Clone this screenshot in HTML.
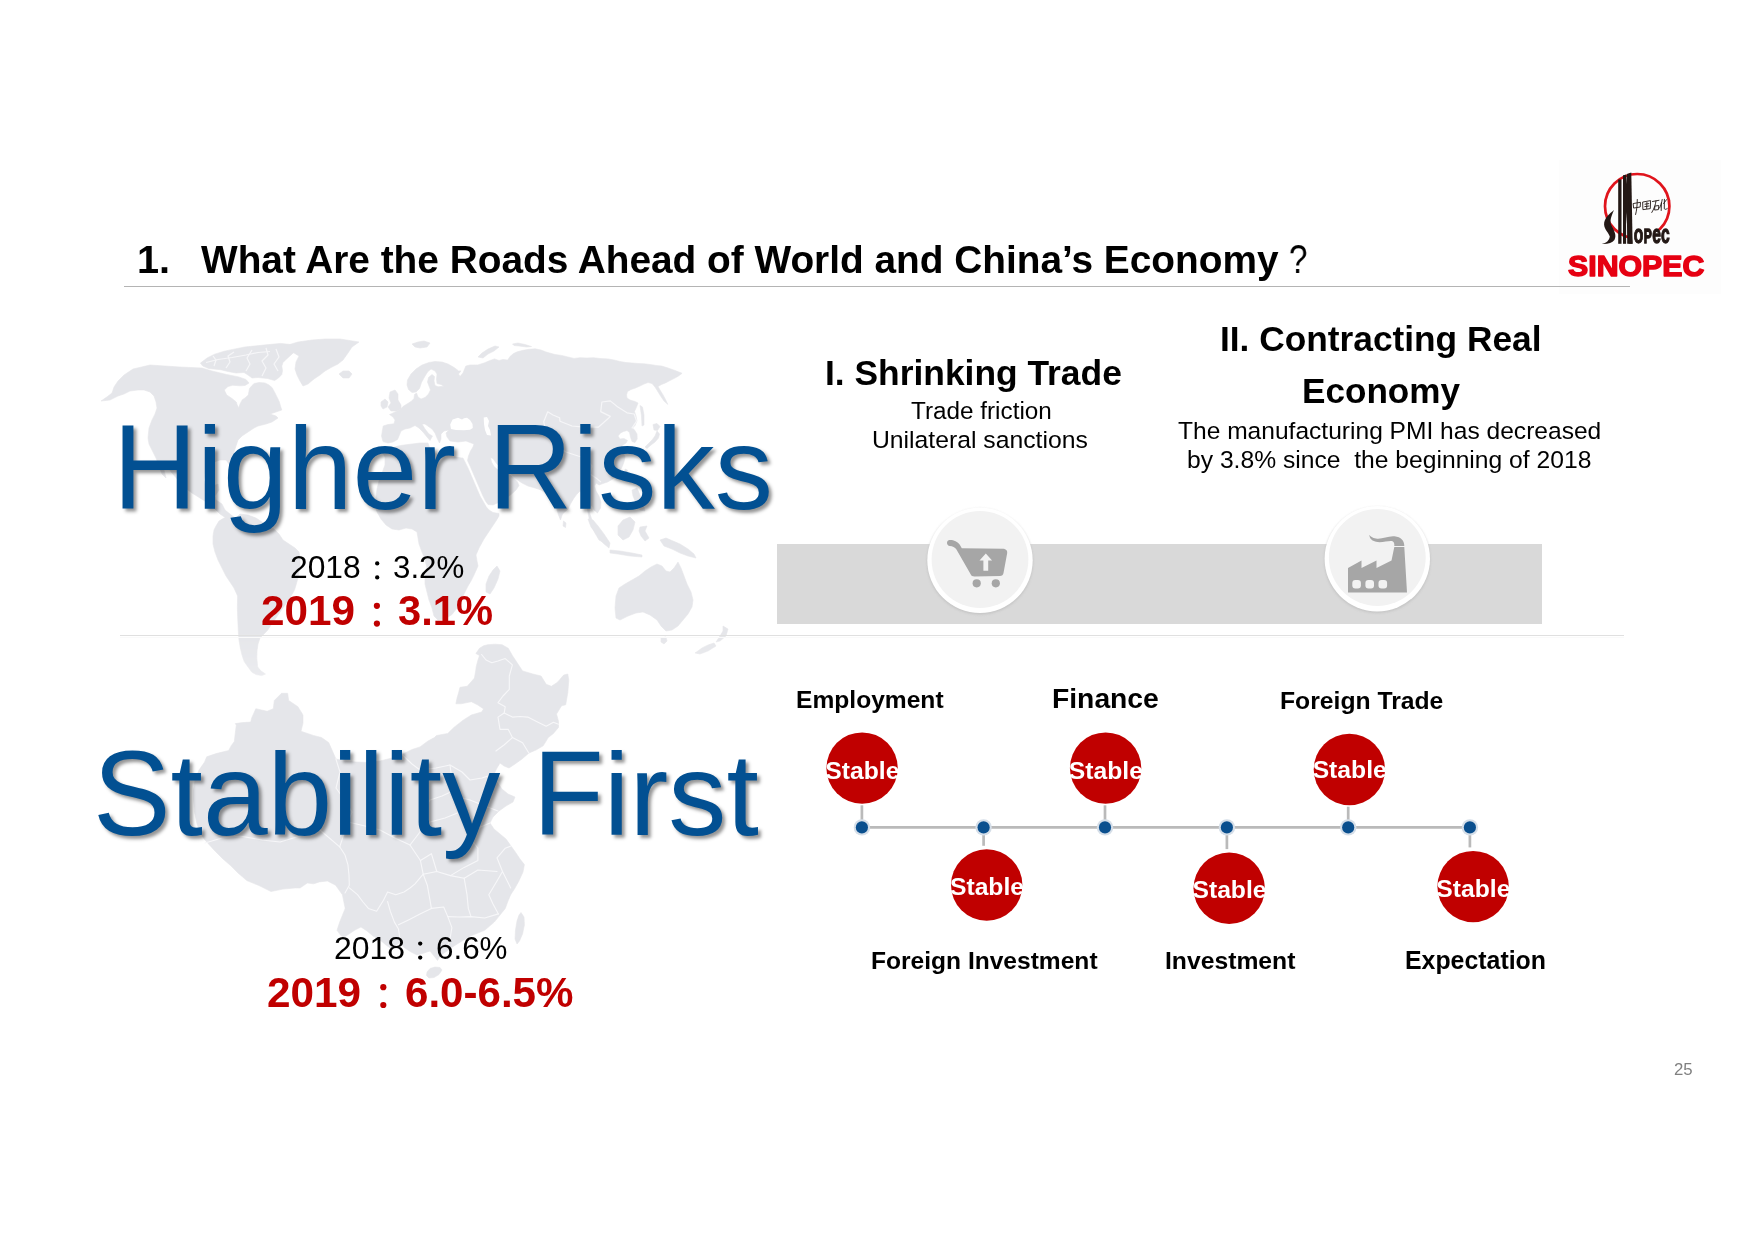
<!DOCTYPE html>
<html><head><meta charset="utf-8"><title>Slide 25</title>
<style>
html,body{margin:0;padding:0;background:#fff;}
body{width:1754px;height:1240px;position:relative;overflow:hidden;font-family:"Liberation Sans",sans-serif;color:#000;}
.abs{position:absolute;}
.t{position:absolute;white-space:nowrap;line-height:1;will-change:transform;}
svg{will-change:transform;}
.b{font-weight:bold;}
.pre{white-space:pre;}
.cap{display:inline-block;transform:scaleY(1.041);transform-origin:0 84.65%;}
.big{color:#025092;text-shadow:3px 3px 3.5px rgba(0,0,0,0.42);letter-spacing:0;}
.red{color:#c00000;}
.hl{position:absolute;height:1px;background:#d9d9d9;}
</style></head><body>
<svg class="abs" style="left:0;top:0" width="1754" height="1240" viewBox="0 0 1754 1240">
<defs>
<linearGradient id="fadeg" gradientUnits="userSpaceOnUse" x1="0" y1="630" x2="0" y2="690">
<stop offset="0" stop-color="#fff" stop-opacity="1"/><stop offset="1" stop-color="#fff" stop-opacity="0.7"/>
</linearGradient>
<mask id="wm" maskUnits="userSpaceOnUse" x="0" y="0" width="1754" height="1240">
<rect x="0" y="0" width="1754" height="630" fill="#fff"/>
<rect x="0" y="630" width="1754" height="100" fill="url(#fadeg)"/>
</mask>
</defs>
<g mask="url(#wm)">
<g fill="#e5e6ea" stroke="#e5e6ea" stroke-width="0.6" stroke-linejoin="round"><path d="M101,401 L107.5,396.5 L112,393 L114,387 L118,381 L124,375 L133,369 L150,365 L165,366 L180,367 L202,368 L212,371 L226.7,374.5 L238.7,376.9 L246,379.5 L249,383 L245,385.5 L240,385.8 L232.7,385.3 L228,386.5 L224.3,390 L226.7,394.9 L232,398.5 L236.3,402 L237,404.5 L238.7,408 L240,404 L242.3,399.7 L245,398 L248.3,394.9 L249.5,388.5 L252,385.5 L254.2,383.5 L259,382.5 L265,382.9 L269,385 L272.2,387.7 L275,393 L277.5,398 L279.4,402 L280.5,406 L281.8,410 L276,412 L270,414 L276,416 L278,418 L272,422 L266,424 L258,426 L254,428 L248,432 L242,436 L238,440 L236,446 L234,452 L232,458 L233,466 L232,470 L229,464 L226,460 L220,460 L214,462 L208,466 L205,472 L204,480 L206,488 L210,490 L213,486 L218,484 L219,490 L215,496 L216,500 L222,504 L225,510 L230,514 L235,518 L238,521 L232,522 L226,518 L220,514 L214,508 L208,503 L200,498 L192,493 L184,487 L178,480 L172,473 L167,466 L163,462 L164,470 L166,478 L162,474 L159,466 L156,458 L152,450 L149,444 L148,438 L149,428 L152,420 L155,414 L157,408 L156,402 L154,396 L150,392 L144,390 L138,390 L130,391 L124,394 L118,396 L110,400Z"/><path d="M200.4,363.1 L207.5,357.7 L214.7,354.2 L224.3,351.2 L232.7,349.4 L244.7,347 L256.6,345.8 L268.6,344.6 L280.6,343.4 L291.4,344.6 L296,350 L291,355 L286.6,358.9 L283,362.5 L281.8,366.1 L282.5,370.5 L281.8,374.5 L278.5,378 L274.6,380.5 L267.4,378.5 L258,377.5 L252,378 L248,375 L244,372.5 L236,373 L228,371.5 L220.7,369.7 L208.7,368.5 L202.8,366.1Z"/><path d="M281,349 L288,345 L298,342 L312,340 L325,339 L340,339 L359,342 L352,347 L348,353 L343,360 L338,364 L332,367 L325,371 L320,375 L314,379 L308,384 L303,386 L300,381 L297,375 L295,369 L296,362 L299,356 L294,353 L288,352Z"/><path d="M339,374 L343,371 L349,371 L352,374 L349,378 L343,378Z"/><path d="M216,526 L219,521 L224,518 L230,516 L236,518 L240,514 L248,515 L256,518 L262,522 L268,526 L274,529 L279,534 L283,540 L289,544 L295,548 L299,552 L300,558 L300,565 L299,572 L298,578 L296,585 L294.5,590 L290,598 L285,605 L280,612 L276,618 L271,625 L267.4,630.6 L263,635 L260,638 L258,644 L257,651 L256.8,658 L257.7,667 L261,671 L265.5,674 L261.6,675.6 L256,674.5 L252,672.3 L248,667 L244.2,661.6 L242,655 L240.3,648 L239,640 L238.4,632.6 L237.8,620 L237.4,608 L237.6,596 L234,588 L230,582 L226,576 L222,568 L218,560 L215,552 L213,544 L213,536 L214,530Z"/><path d="M383,441.6 L381.5,436 L382.5,430 L383.2,426 L388,424.5 L394,423.8 L395,420 L393,417 L389.5,414.5 L392,413.5 L396,411.5 L400,409.5 L403,406.5 L407,404 L411,401.5 L414,398.5 L414.5,394.5 L416.5,393 L418,397 L421,399 L425,397.5 L428.5,394 L430.5,390 L429,386 L427.5,382 L428.5,377.5 L432,374.5 L434.5,376.5 L434,381 L435,385.5 L438,386.8 L444,386.2 L441,384.5 L437,383.5 L436.5,379 L437,374 L435,371 L431,369 L427.5,372 L424.5,377 L421.5,382.5 L419.5,388.5 L416,392 L412,392.5 L408.5,389.5 L407,385 L407.5,380 L411,374 L416,369 L422,365 L429,362.5 L435,361.5 L442,362 L448,364 L453.8,367.3 L458.6,370.9 L461,370.9 L458.5,374 L460,376.5 L463,373 L465.8,366.1 L470,365 L477.8,364.9 L484,363 L490,360.5 L494.5,358.9 L499,360.5 L503,359.5 L507.7,360.1 L510,356.5 L513.5,353.5 L517.3,351.8 L523,350.3 L529,349.3 L535.2,348.8 L541,350 L545.5,351.8 L549.6,353 L555,354.5 L561.6,355.4 L568,357 L574,358.4 L580,357.7 L587,358 L593.5,357.7 L600,358.5 L607.9,358.9 L614,360 L620,361.5 L625.9,362.5 L632,363 L638,363.5 L643.8,363.7 L650,364.5 L656,365.4 L661.8,366.1 L668,368 L675,370.5 L682.1,373.3 L678.5,376 L674.9,378.1 L670,380.5 L665.4,382.9 L661.5,384.5 L658,386.5 L660,390 L663,394.9 L665.5,399.5 L667.8,404.4 L664,401 L660.6,396 L657.5,391 L655,387 L652,383.5 L648,382.5 L644,384 L640,386 L635.5,388 L631,389.5 L627.5,391.5 L626.5,395 L627,398 L630,400 L635,401.5 L638,403 L636.5,407 L634.5,411.5 L636,416 L637,421 L635,425.5 L632.5,428 L634.5,430 L637,434 L637.2,439 L635,442.5 L632,441.5 L630.5,437 L629.5,432.5 L627,430.5 L623.5,431.5 L620.5,433 L618,436 L620,439 L624,438.5 L627.5,440.5 L626,443 L622,445.5 L621,449 L623.5,453 L625,457 L624,462 L622,467 L619.5,472 L616,476 L612,479.5 L607.5,482 L603,483.5 L599,485 L596,483 L594.5,486 L596,491 L599,496 L601,502 L600.5,508 L597.5,513 L594,510 L592,505 L589.5,508 L590,514 L592,520 L595,526 L598.5,532 L602,538 L602.5,542 L599,540 L595.5,534 L592,527 L589.5,520 L588,513 L587,506 L585.5,500 L583,495 L580,491 L577,494 L574,498 L571,503 L568,509 L562.5,514 L560.5,520 L558.5,515 L557,510 L556,505 L552.5,498 L547,494 L541,490 L535,488 L528,486 L522,483 L516,479 L511,474 L506,470.5 L501,468 L496.5,463.5 L493,458.5 L490.5,457.5 L491.5,462 L494,466.5 L498,470 L502,472.5 L506.5,473 L510,474.5 L514,478 L517.5,482 L519,485.5 L516,490 L511,494.5 L505,499 L498.5,502.5 L493,505 L488,504.5 L485.5,501 L482.5,495 L479.5,488 L476.5,481 L473.5,474 L470.5,467 L467.5,460.5 L468.5,456 L470.5,451 L473,447 L474,444 L466,441 L458,442 L450,441 L447,437 L446,433 L449,430 L444,431 L441,434 L441,439 L439.5,443 L437,438 L435,433 L432,429 L425,424 L422,424 L425,429 L429,434 L432.5,436 L430,440.5 L427,437 L423,432 L419,428 L415,425.5 L410,428 L405,429 L401,431 L399,436 L397.5,439.5 L393,442 L388,443Z"/><path d="M381,446 L386,448 L392,448 L398,446 L404,445 L412,444 L420,443 L428,443 L430,449 L435,453 L441,456 L448,455 L455,457 L462,458 L463,458 L465,462 L468,468 L471,475 L474,482 L477,489 L480,496 L483.5,502 L486,506.5 L489,510 L493,512.5 L499,513.5 L499,516 L496,521 L492,527 L488,533 L484,539 L479,548 L476,555 L477,561 L478,566 L474,575 L471,581 L468,586 L464,594 L461,601 L457,608 L452,614.5 L445,619 L438,620 L434,616 L432,608 L429,600 L427,592 L425,584 L425,576 L427,568 L425,560 L422,552 L419,544 L418,538 L417,532 L412,529 L406,528 L399,530 L392,529 L386,525 L381,519 L377,512 L375,505 L376,497 L377,489 L379,481 L382,473 L385,465 L385,457 L382,451Z"/><path d="M497,566 L500,571 L498,579 L494,588 L490,594 L486,592 L486,584 L489,576 L493,570Z"/><path d="M616,596 L619,588 L625,584 L632,580 L639,576 L645,571 L651,567 L657,564 L662,566 L666,571 L670,572 L674,568 L678,562 L681,568 L684,576 L687,584 L691,592 L693,600 L692,607 L688,614 L683,620 L678,626 L672,630 L666,631 L661,626 L657,620 L650,615 L643,612 L636,613 L628,616 L620,620 L616,618 L615,608Z"/><path d="M661,638 L666,637 L667,641 L664,644 L661,642Z"/><path d="M723,626 L728,629 L726,636 L720,641 L716,642 L720,636 L723,631Z"/><path d="M714,643 L716,646 L708,651 L700,654 L695,653 L702,648 L708,645Z"/><path d="M588,519 L593,520 L598,526 L604,534 L610,543 L609,548 L603,543 L597,535 L591,527Z"/><path d="M618,526 L623,520 L630,517 L635,522 L633,530 L629,537 L623,540 L618,535Z"/><path d="M610,550 L620,551 L632,553 L642,555 L642,557 L630,556 L618,554 L610,553Z"/><path d="M640,527 L647,526 L645,531 L649,538 L645,541 L641,536 L639,531Z"/><path d="M660,540 L666,538 L673,541 L680,544 L688,549 L694,554 L696,558 L688,556 L680,553 L672,549 L664,546Z"/><path d="M632,490 L637,488 L640,495 L643,503 L645,511 L640,510 L636,503 L633,496Z"/><path d="M625,469 L627.5,470 L627,474 L624.5,474.5Z"/><path d="M512.5,344 L518,343 L525,344.5 L531.5,346.5 L527,347 L519,346 L514,345.5Z"/><path d="M657,431 L659.5,434 L658.5,438 L655,442 L651,445 L647,448.5 L645,447 L648.5,443.5 L652,440 L655,436Z"/><path d="M653,424.5 L657,423.5 L660,426.5 L657.5,430.5 L654,430Z"/><path d="M640,405.5 L642.5,407 L644,415 L644,425 L642,426 L641.5,416Z"/><path d="M391,411 L388,407 L391,403 L389,398 L390,392 L395,390 L398,394 L398,400 L401,405 L401,409 L397,411Z"/><path d="M381,402 L385,399 L388,402 L387,407 L383,409 L381,406Z"/><path d="M412,344 L418,342 L424,341 L430,343 L427,347 L420,348 L415,347Z"/><path d="M478,357 L482,353 L488,349 L495,346 L499,347 L494,351 L488,354 L483,358Z"/><path d="M563.5,521 L566,523 L565.5,527.5 L563,526Z"/></g>
<g fill="#ffffff"><path d="M483.7,417.6 L487,417 L489,421 L488,426 L490,430 L491,435.5 L487,435 L485,430 L484,424Z"/><path d="M452.6,419.5 L458,417.8 L462,419.5 L464,418.2 L467,417.8 L470,420 L472.5,424 L472.8,428 L470,429.8 L464,430.2 L456,430 L451,429 L450.2,424.5Z"/></g>
<g fill="none" stroke="#f6f6f8" stroke-width="1.2" stroke-linejoin="round"><path d="M206,362.5 L218,359.5 L232,357.5 L246,355 L258,352.5 L270,351.5"/><path d="M226,368 L230,362 L228,356 L234,352"/><path d="M246,371 L250,364 L247,358 L252,350"/><path d="M262,376 L266,368 L262,361 L268,355 L266,348"/><path d="M278,371 L274,364 L279,357 L276,349"/><path d="M214,366 L216,360 L213,356"/><path d="M545.7,430 L543.7,421.8 L547.7,411.8 L553,415 L559.6,417.8 L560,421.2 L572,426 L584,427.2 L598.3,427.2 L607.9,418.8 L610.3,416.4 L600.7,411.6 L601.9,402 L610.3,400.9 L617.5,406.8 L627,412.8 L634.2,414 L636.6,421.2 L631.8,428.4"/><path d="M545.7,430 L549,438 L556,446 L566,452 L578,456 L586,458 L592,466 L590,474 L596,478 L601,482"/></g>
</g>
<g fill="#e5e6ea" stroke="#e5e6ea" stroke-width="0.6" stroke-linejoin="round">
<path d="M281.5,693.3 L287.6,693.3 L288.7,700.5 L297.9,706.7 L303,714.9 L303,723.1 L301,731.3 L313.3,735.4 L321.5,737.5 L328.7,742.6 L332.8,751.8 L335.9,759 L346,761 L356,762 L368,762.5 L380,761 L392,758 L402,754.5 L412,749.5 L420,746.9 L428,741 L434.4,737.6 L436.4,735.6 L442,734.5 L447.7,733.5 L453.9,727.4 L463.1,720.2 L471.3,715 L481.6,712 L483.6,708.9 L477.5,704.8 L471.3,701.7 L466,702.8 L461.1,703.8 L455.9,703.8 L456.9,698.6 L458.5,693 L460,687.3 L467.2,686.3 L471,682 L474.4,678.1 L475.5,672 L476.4,665.8 L478,660 L479.5,655.5 L475.9,653.5 L479.5,648.3 L483.6,645.8 L487.7,644.7 L495,644.2 L502.1,644.7 L508.3,648.3 L512.4,655.5 L518.5,664.8 L522.6,670.9 L532.9,674 L541.1,676 L546.2,684.3 L551.4,686.3 L557.5,682.2 L563.7,675 L567.8,674 L568.8,680.2 L567.8,692.5 L565.7,704.8 L561.6,705.8 L556.5,714 L558.5,721.2 L558.5,727.4 L553.4,733.5 L548.3,737.6 L543.2,745.8 L536,750 L529,753 L522,759 L515,764 L509,768 L504,766 L500,763 L497,768 L494,774 L497,782 L502,789 L508,794 L515,797 L513,802 L506,806 L499,811 L493,817 L490,823 L494,829 L500,834 L506,839 L511,846 L516,853 L520,859 L524.4,864.6 L523,872 L518.9,881 L515,888 L510.7,894.7 L508,901 L505.3,908.4 L500,915 L494.3,922.1 L484.7,930.3 L471,935.8 L462,941 L454,946 L447,951 L441,955 L437.5,960.5 L434,956 L430,951 L424,953 L417,955 L411,952 L405,948 L399,943 L395,946 L391.6,949 L386,945 L380,940 L373,936 L367,931 L361,927 L355,930 L349,934 L344,937 L341,935.8 L337,930.3 L339.7,922.1 L345.2,908.4 L342.4,894.7 L335.6,885.2 L327.4,881 L319.3,881.9 L313.7,883.8 L307.3,883 L300,888 L295.2,887.9 L283,889.1 L271,891.5 L258.9,885.5 L246.8,880.6 L238,873 L230.8,865.8 L222.4,858.4 L214,850 L204.6,839.6 L200.5,833 L197,824 L194.5,812 L193.5,800 L193.5,790 L195,780 L199,770 L204.6,762 L206.7,756.8 L216.1,753.6 L228.7,750.5 L231.2,745.7 L234.3,741.6 L235.3,733 L236.3,725.2 L235.3,723.6 L242.5,722.6 L250.7,722.1 L251.7,718 L255.8,708.7 L267.1,711.3 L273.3,708.7 L274.3,700.5Z"/><path d="M521,912.5 L524,917 L524.4,925 L522.5,934 L519.5,941 L517,944 L515,939 L515.5,930 L517,921 L519,915Z"/><path d="M427,972 L430,968.5 L435,967 L440,967.5 L442,970 L439,974.5 L434,977.5 L429,978 L426.5,975.5Z"/>
</g>
<g fill="none" stroke="#f7f7f9" stroke-width="1.1" stroke-linejoin="round" stroke-linecap="round">
<path d="M481.6,654.5 L486,660 L491.8,662.7 L498,661 L505.2,658.6 L512.4,664.8 L509.3,676 L509.3,689.4 L503,696 L498,702.7 L505.2,706.8 L504.2,713 L498,717.1 L500,729.4 L508.3,729.4 L512.4,737.6 L504,745 L495.9,751"/><path d="M504.2,713 L512.4,717.1 L520,716.5 L527.8,717.1 L538,722.2 L546.2,726.3 L553.4,722.2 L558.5,724.3"/><path d="M512.4,737.6 L522.6,742.8 L528.8,753"/><path d="M339.7,846.8 L345,855 L347.9,864.6 L349,875 L349.3,885.2 L345,893"/><path d="M349.3,887.9 L357.5,894.7 L363,902 L368.4,908.4 L376.6,911.2 L383.5,900.2 L387.6,892 L395.8,894.7 L404,892 L410,888 L415,883.8 L423.2,874.2"/><path d="M387.6,901.6 L390.3,911.2 L394.4,922.1 L398.5,929 L400,940"/><path d="M423.2,874.2 L427.3,885.2 L430,900.2 L431.4,908.4 L420,914 L409.5,919.4 L398.5,924.8"/><path d="M423.2,874.2 L436.8,871.5 L450.5,875.6 L464.2,878.3 L467,894.7 L468.3,908.4 L471,916.6"/><path d="M431.4,908.4 L443.7,907 L447.8,916.6 L451.9,927.6 L450.5,935.8 L448,946"/><path d="M447.8,916.6 L459,917 L471,916.6 L484.7,918 L498.4,913.9"/><path d="M498.4,913.9 L493,904 L488.8,894.7 L497,881 L502.5,871.5 L510.7,887.9"/><path d="M502.5,871.5 L497,857.8 L505.3,848.2 L511,846"/><path d="M423.2,874.2 L420.4,860.5 L431.4,853.7 L436.8,871.5"/><path d="M450.5,875.6 L464.2,867.4 L477.9,860.5 L477.9,848.2 L470,838 L478,828 L490,823"/><path d="M464.2,878.3 L477.9,870 L497,871.5"/><path d="M205,843 L222,838 L240,836 L262,840 L280,842 L300,836 L320,830 L339.7,846.8"/><path d="M335.9,759 L340,772 L336,788 L346,802 L352,812 L348,822 L339.7,846.8"/><path d="M348,822 L365,826 L380,830 L395,838 L410,845 L420.4,860.5"/><path d="M410,845 L420,832 L430,822 L445,818 L460,812 L478,828"/><path d="M402,754.5 L412,764 L420,770 L436,768 L450,765 L462,772 L470,780 L482,778 L494,774"/><path d="M450,765 L452,780 L455,790 L462,798 L470,800 L485,806 L498,811"/><path d="M455,790 L442,796 L430,800 L424,810 L420,820 L420,832"/>
</g>
</svg>

<!-- title -->
<div class="t" id="qm" style="left:1289px;top:238.9px;font-size:41.4px;transform:scaleX(0.8);transform-origin:0 0;">?</div>
<div class="hl" style="left:120px;top:635px;width:1504px;background:#e0e0e0;"></div>
<div class="hl" style="left:120px;top:637px;width:1504px;background:#fafafa;"></div>

<div class="abs" style="left:1559px;top:160px;width:162px;height:134px;background:#fdfdfd;"></div>
<svg class="abs" style="left:1559px;top:160px" width="162" height="134" viewBox="1559 160 162 134">
<circle cx="1637.2" cy="206.2" r="32.2" fill="none" stroke="#e0141c" stroke-width="2.7"/>
<rect x="1632" y="230.5" width="40" height="15" fill="#fdfdfd"/>
<g fill="#231815">
<rect x="1618.2" y="179.5" width="3.3" height="64.3"/>
<rect x="1623" y="175.5" width="3.1" height="68.3"/>
<path d="M1626.8,174 L1631.3,172.6 L1632.6,243.8 L1627.2,243.8 Z"/>
<path d="M1623,175.5 L1626.1,174.5 L1632.6,243.8 L1628.6,243.8 Z"/>
<path d="M1601.8,244 C1606.5,243 1609.2,240.5 1609.8,236.5 C1608,231.5 1603.2,228.5 1604.2,222.5 C1605.2,217.5 1609.5,213.8 1614,210 C1611.2,216.5 1609.6,220.5 1611.2,224.8 C1613.6,230 1617.2,235 1614.4,240 C1612.2,243.2 1608,244.2 1601.8,244 Z"/>
</g>
<g font-family="Liberation Sans, sans-serif" font-weight="bold" fill="#231815" stroke="#231815" stroke-width="1.3" transform="translate(1633.8,242.9) scale(0.60,1)">
<text x="0" y="0" font-size="26">o</text>
<text x="16.4" y="0" font-size="20.2">P</text>
<text x="30.8" y="0" font-size="26">ec</text>
</g>
<g stroke="#231815" stroke-width="0.9" fill="none" stroke-linecap="round">
<path d="M1633.5,203.5 L1640.5,202.3 L1640.2,207 L1634,208 Z M1637.3,199.5 C1637.2,205 1636.8,210 1635.6,214.5"/>
<path d="M1643,202 L1650.6,200.6 L1650.3,208.6 L1643.3,209.6 Z M1645,204.2 L1648.8,203.6 M1644.8,206.6 L1649,206 M1646.9,202.5 L1646.7,208.5"/>
<path d="M1652.5,201.5 L1659,200.3 M1656,200.8 C1655.5,205 1654,209 1651.8,212.5 M1655.2,206 L1658.8,205.5 L1658.4,209.6 L1655,210 Z"/>
<path d="M1662.2,199.5 C1661.6,203 1660.8,205.5 1659.6,208 M1661.4,203 L1661.2,210.5 M1666.6,199.6 L1663.6,203.5 M1664.4,199.3 L1664.3,208.3 C1664.4,209.6 1665.5,209.8 1667.2,208.6"/>
</g>
<text x="1636.2" y="276.0" text-anchor="middle" font-family="Liberation Sans, sans-serif" font-weight="bold" font-size="29.8" fill="#e60012" stroke="#e60012" stroke-width="1.5" stroke-linejoin="round" textLength="136.2" lengthAdjust="spacingAndGlyphs">SINOPEC</text>
</svg>

<div class="hl" style="left:124px;top:286px;width:1506px;background:#b4b4b4;"></div>

<!-- texts -->
<div class="t b" id="t1" style="left:137.04px;top:240.19px;font-size:39.7px;">1.</div>
<div class="t b" id="title" style="left:201.02px;top:241.26px;font-size:38.82px;">What Are the Roads Ahead of World and China’s Economy</div>
<div class="t big" id="hr" style="left:112.98px;top:410.83px;font-size:116.44px;"><span class="cap">H</span>igher <span class="cap">R</span>isks</div>
<div class="t big" id="sf" style="left:92.94px;top:736.57px;font-size:116.33px;"><span class="cap">S</span>tability <span class="cap">F</span>irst</div>
<div class="t " id="s1a" style="left:290.15px;top:551.56px;font-size:31.8px;">2018</div>
<div class="t " id="s1c" style="left:392.61px;top:551.95px;font-size:31.29px;">3.2%</div>
<div class="t b red" id="s2a" style="left:261.02px;top:590.15px;font-size:42.24px;">2019</div>
<div class="t b red" id="s2c" style="left:398.43px;top:590.45px;font-size:41.67px;">3.1%</div>
<div class="t " id="s3a" style="left:333.65px;top:932.73px;font-size:31.88px;">2018</div>
<div class="t " id="s3c" style="left:435.96px;top:932.73px;font-size:31.37px;">6.6%</div>
<div class="t b red" id="s4a" style="left:267.33px;top:971.93px;font-size:42.25px;">2019</div>
<div class="t b red" id="s4c" style="left:404.77px;top:972.09px;font-size:42.08px;">6.0-6.5%</div>
<div class="t b" id="h1" style="left:824.7px;top:355.02px;font-size:35.39px;">I. Shrinking Trade</div>
<div class="t " id="p1a" style="left:910.89px;top:399.15px;font-size:24.29px;">Trade friction</div>
<div class="t " id="p1b" style="left:871.85px;top:427.75px;font-size:24.74px;">Unilateral sanctions</div>
<div class="t b" id="h2a" style="left:1220.45px;top:321.39px;font-size:35.29px;">II. Contracting Real</div>
<div class="t b" id="h2b" style="left:1302.33px;top:372.99px;font-size:35.13px;">Economy</div>
<div class="t " id="p2a" style="left:1178.32px;top:418.73px;font-size:24.57px;">The manufacturing PMI has decreased</div>
<div class="t pre" id="p2b" style="left:1186.71px;top:448.34px;font-size:24.67px;">by 3.8% since  the beginning of 2018</div>
<div class="t b" id="l1" style="left:795.56px;top:688.09px;font-size:24.6px;">Employment</div>
<div class="t b" id="l2" style="left:1051.86px;top:684.01px;font-size:28.28px;">Finance</div>
<div class="t b" id="l3" style="left:1279.84px;top:689.19px;font-size:24.71px;">Foreign Trade</div>
<div class="t b" id="l4" style="left:870.86px;top:949.27px;font-size:24.57px;">Foreign Investment</div>
<div class="t b" id="l5" style="left:1165.09px;top:949.17px;font-size:24.71px;">Investment</div>
<div class="t b" id="l6" style="left:1405.4px;top:948.06px;font-size:24.88px;">Expectation</div>

<svg class="abs" style="left:360px;top:550px" width="80" height="470" viewBox="360 550 80 470">
<g fill="#000"><circle cx="377.2" cy="563.4" r="2.15"/><circle cx="377.2" cy="577.4" r="2.15"/><circle cx="420.2" cy="943.6" r="2.15"/><circle cx="420.2" cy="957.6" r="2.15"/></g>
<g fill="#c00000"><circle cx="376.9" cy="605.8" r="3.1"/><circle cx="376.9" cy="623.6" r="3.1"/><circle cx="383.3" cy="987.2" r="3.1"/><circle cx="383.3" cy="1005" r="3.1"/></g>
</svg>


<!-- right top -->

<!-- gray band + icons -->
<div class="abs" style="left:777px;top:544px;width:765px;height:80px;background:#d9d9d9;"></div>
<svg class="abs" style="left:900px;top:490px" width="560" height="150" viewBox="900 490 560 150">
<defs>
<radialGradient id="cg" cx="0.5" cy="0.5" r="0.5"><stop offset="0" stop-color="#f4f4f4"/><stop offset="1" stop-color="#f0f0f0"/></radialGradient>
<filter id="cs" x="-20%" y="-20%" width="140%" height="140%"><feGaussianBlur stdDeviation="1.2"/></filter>
</defs>
<!-- cart circle -->
<circle cx="980" cy="561.6" r="53" fill="#bdbdbd" filter="url(#cs)" opacity="0.7"/>
<circle cx="980" cy="560.3" r="52.7" fill="#ffffff"/>
<circle cx="980" cy="559.5" r="48.4" fill="#f2f2f2"/>
<!-- factory circle -->
<circle cx="1377.3" cy="560" r="53" fill="#bdbdbd" filter="url(#cs)" opacity="0.7"/>
<circle cx="1377.3" cy="558.7" r="52.7" fill="#ffffff"/>
<circle cx="1377.3" cy="557.5" r="48.4" fill="#f2f2f2"/>
<!-- cart icon -->
<g fill="#a6a6a6">
<path d="M948.6,540.2 C951.5,539.2 957.5,541 959.8,544.8 L961.8,548.3 L1004,548.8 C1006.3,549.5 1007.5,550.8 1007.2,553 L1003.5,573 C1003.2,575 1002,576 1000,576 L974.5,576.5 C972.5,576.5 971.3,575.8 970.5,574 L956.3,549.3 C955,547.3 952.5,546.3 949.8,546 C946.5,545.4 946.2,541.3 948.6,540.2 Z"/>
<circle cx="976.7" cy="583.3" r="4.1"/>
<circle cx="995.8" cy="583.3" r="4.1"/>
</g>
<path d="M985.8,553.5 L992.1,560.6 L988.2,560.6 L988.2,570.8 L983.4,570.8 L983.4,560.6 L979.5,560.6 Z" fill="#f2f2f2"/>
<!-- factory icon -->
<g fill="#a6a6a6">
<path d="M1348,592.5 L1348,568 L1361.5,560.5 L1361.5,568 L1376.5,560.5 L1376.5,568 L1391.5,560.5 L1394.3,547 L1404.3,547 L1407,592.5 Z"/>
<path d="M1394.3,546 L1404.3,546 C1404.5,541 1401,537 1394.5,536.3 C1388,535.7 1382,539.5 1376,538.5 C1372.5,538 1370.3,536.5 1369.3,534.8 C1369.5,538.5 1372,541 1376,541.8 C1382,543 1388,540.5 1392,541 C1394,541.5 1394.5,543.5 1394.3,546 Z"/>
</g>
<g fill="#f2f2f2">
<rect x="1352.3" y="580" width="8.6" height="8.4" rx="3"/>
<rect x="1365.4" y="580" width="8.6" height="8.4" rx="3"/>
<rect x="1378.5" y="580" width="8.6" height="8.4" rx="3"/>
</g>
</svg>


<!-- timeline -->
<svg class="abs" style="left:780px;top:720px" width="780" height="220" viewBox="780 720 780 220">
<g stroke="#bababa" stroke-width="2.7" fill="none">
<path d="M862,827.4 L1470,827.4"/>
<path d="M861.9,805.3000000000001 L861.9,827"/>
<path d="M1105,805.3000000000001 L1105,827"/>
<path d="M1348.2,806.7 L1348.2,827"/>
<path d="M983.6,827 L983.6,845.8"/>
<path d="M1226.9,827 L1226.9,849.1"/>
<path d="M1469.9,827 L1469.9,847.4"/>
</g>
<circle cx="862.1" cy="768.1" r="35.7" fill="#c00000"/>
<circle cx="1105.6" cy="768.1" r="35.7" fill="#c00000"/>
<circle cx="1349.4" cy="769.5" r="35.7" fill="#c00000"/>
<circle cx="986.7" cy="885" r="35.7" fill="#c00000"/>
<circle cx="1229.2" cy="888.3" r="35.7" fill="#c00000"/>
<circle cx="1473.1" cy="886.6" r="35.7" fill="#c00000"/>
<circle cx="861.9" cy="827.4" r="8.2" fill="#d5dee8"/><circle cx="861.9" cy="827.4" r="6.1" fill="#0a4f8e"/>
<circle cx="983.6" cy="827.4" r="8.2" fill="#d5dee8"/><circle cx="983.6" cy="827.4" r="6.1" fill="#0a4f8e"/>
<circle cx="1105" cy="827.4" r="8.2" fill="#d5dee8"/><circle cx="1105" cy="827.4" r="6.1" fill="#0a4f8e"/>
<circle cx="1226.9" cy="827.4" r="8.2" fill="#d5dee8"/><circle cx="1226.9" cy="827.4" r="6.1" fill="#0a4f8e"/>
<circle cx="1348.2" cy="827.4" r="8.2" fill="#d5dee8"/><circle cx="1348.2" cy="827.4" r="6.1" fill="#0a4f8e"/>
<circle cx="1469.9" cy="827.4" r="8.2" fill="#d5dee8"/><circle cx="1469.9" cy="827.4" r="6.1" fill="#0a4f8e"/>
<g font-family="Liberation Sans, sans-serif" font-weight="bold" font-size="24.7" fill="#ffffff" text-anchor="middle">
<text x="862.4" y="778.9">Stable</text>
<text x="1105.9" y="778.9">Stable</text>
<text x="1349.7" y="778.3">Stable</text>
<text x="987.0" y="895.2">Stable</text>
<text x="1229.5" y="897.6">Stable</text>
<text x="1473.4" y="897.2">Stable</text>
</g>
</svg>


<div class="t" id="pg" style="left:1673.5px;top:1061.8px;font-size:16.8px;color:#808080;">25</div>
</body></html>
